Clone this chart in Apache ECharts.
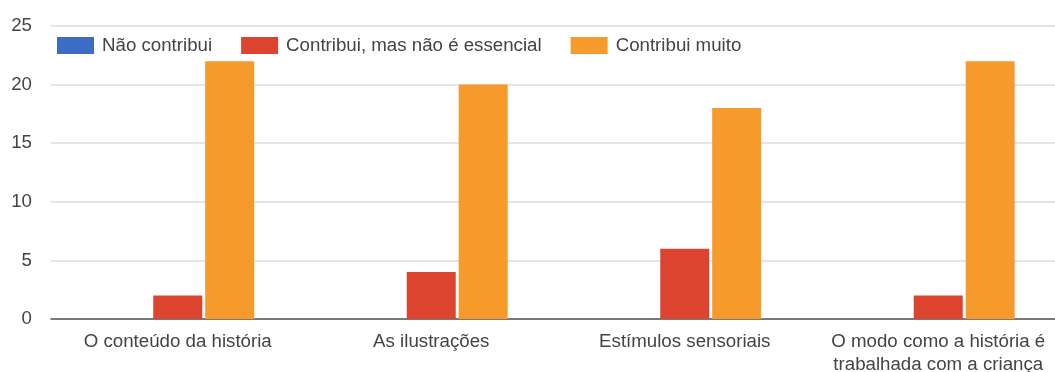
<!DOCTYPE html>
<html>
<head>
<meta charset="utf-8">
<script src="https://cdn.jsdelivr.net/npm/echarts@6/dist/echarts.min.js"></script>
<style>
  html, body { margin: 0; padding: 0; background: #fff; }
  #chart { width: 1055px; height: 372px; }
</style>
</head>
<body>
<div id="chart"></div>
<script>
// Categories (x axis)
const categories = [
  'O conteúdo da história',
  'As ilustrações',
  'Estímulos sensoriais',
  'O modo como a história é\ntrabalhada com a criança'
];
// Series values
const naoContribui = [0, 0, 0, 0];
const contribuiNaoEssencial = [2, 4, 6, 2];
const contribuiMuito = [22, 20, 18, 22];
// Y axis ticks
const yTicks = [0, 5, 10, 15, 20, 25];

const font = '"Liberation Sans", Arial, sans-serif';
const fs = 18.7;
const chart = echarts.init(document.getElementById('chart'));

chart.setOption({
  animation: false,
  backgroundColor: '#ffffff',
  textStyle: { fontFamily: font },
  legend: {
    left: 52,
    top: 31,
    itemWidth: 37,
    itemHeight: 17,
    itemGap: 29,
    icon: 'rect',
    textStyle: { fontFamily: font, fontSize: fs, color: '#444', padding: [0, 0, 0, 3] },
    data: ['Não contribui', 'Contribui, mas não é essencial', 'Contribui muito']
  },
  grid: { left: 51, top: 26, width: 1014, height: 293, containLabel: false, outerBoundsMode: 'none' },
  xAxis: {
    type: 'category',
    data: categories,
    axisTick: { show: false },
    axisLine: { lineStyle: { color: '#555', width: 1.5 } },
    axisLabel: { interval: 0, fontFamily: font, fontSize: fs, color: '#444', margin: 11, lineHeight: 23 }
  },
  yAxis: {
    type: 'value',
    min: yTicks[0],
    max: yTicks[yTicks.length - 1],
    interval: 5,
    axisLine: { show: false },
    axisTick: { show: false },
    axisLabel: { fontFamily: font, fontSize: fs, color: '#444', margin: 19 },
    splitLine: { lineStyle: { color: '#dcdcdc', width: 1.5 } }
  },
  series: [
    { name: 'Não contribui', type: 'bar', data: naoContribui, barWidth: 49, barGap: '6%',
      itemStyle: { color: '#3d6cc4' } },
    { name: 'Contribui, mas não é essencial', type: 'bar', data: contribuiNaoEssencial, barWidth: 49, barGap: '6%',
      itemStyle: { color: '#dc4430' } },
    { name: 'Contribui muito', type: 'bar', data: contribuiMuito, barWidth: 49, barGap: '6%',
      itemStyle: { color: '#f59a2b' } }
  ]
});
</script>
</body>
</html>
